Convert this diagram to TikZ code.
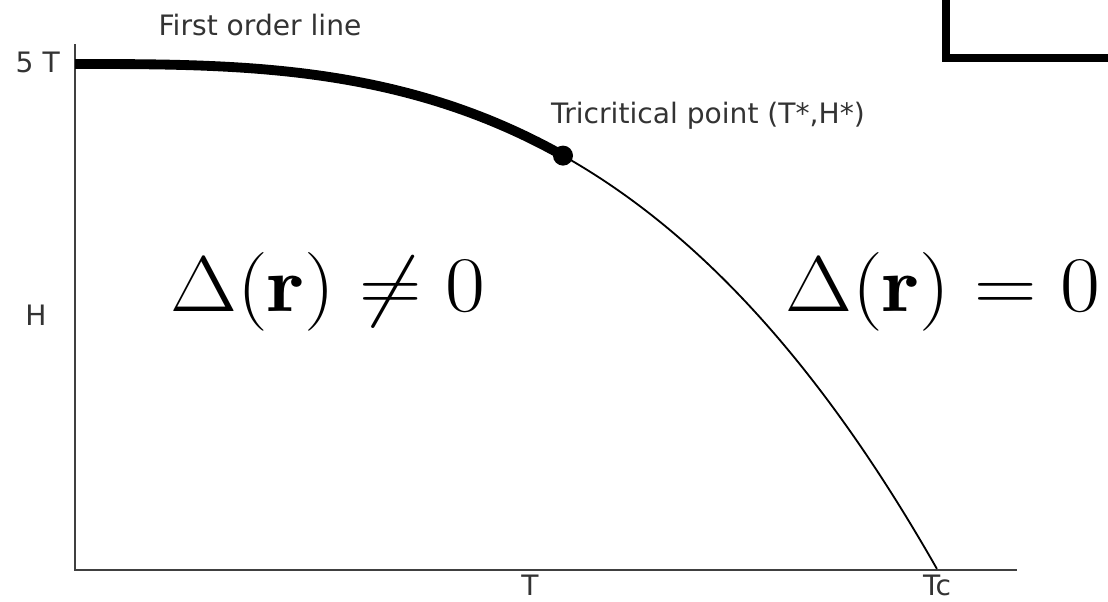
\RequirePackage{fix-cm}
\documentclass[tikz,border=0pt]{standalone}
\usepackage{fontspec}
\newfontfamily\labelfont{DejaVu Sans}
\usetikzlibrary{calc,positioning}

\definecolor{labelgray}{HTML}{333333}
\definecolor{axisgray}{HTML}{404040}

\newcommand{\widemath}[1]{\scalebox{1.1}[1]{#1}}

\tikzset{
  lbl/.style={font=\labelfont\fontsize{20}{24}\selectfont, text=labelgray, inner sep=0pt},
  phase/.style={font=\fontsize{56}{60}\selectfont, inner sep=0pt},
  axisline/.style={draw=axisgray, line width=1.8pt},
  firstorder/.style={line width=7pt},
  secondorder/.style={line width=1.3pt},
  frameline/.style={line width=5.6pt}
}

\begin{document}
\begin{tikzpicture}[x=0.025cm, y=-0.025cm]
\useasboundingbox (0,0) rectangle (1108,601);

% axes
\coordinate (top) at (75,44);
\coordinate (origin) at (75,570);
\coordinate (right) at (1017,570);
\draw[axisline] (top) -- (origin) -- (right);

% phase boundary, H ~ 1 - (T/Tc)^3
\coordinate (hfive) at (75,64);
\coordinate (tcrit) at (563,155.6);
\coordinate (tc) at (937,569);
\draw[firstorder] plot[domain=0:0.566, samples=60] ({75+862*\x},{64+505*\x^3});
\draw[secondorder] plot[domain=0.566:1, samples=60] ({75+862*\x},{64+505*\x^3});
\fill (tcrit) circle (10);

% frame in the corner
\draw[frameline] (946,-20) rectangle (1130,58);

% labels
\node[lbl, anchor=base] (first) at (260,35) {First order line};
\node[lbl, anchor=base east] (fivet) at (60,72) {5 T};
\node[lbl, anchor=base] (hlab) at (36,325) {H};
\node[lbl, anchor=base] (tlab) at (530,595) {T};
\node[lbl, anchor=base] (tclab) at (937,595) {Tc};
\node[lbl, anchor=base] (tcp) at (708,123) {Tricritical point (T*,H*)};

% phases
\node[phase, anchor=base] (ordered) at (328,311) {\widemath{$\Delta(\mathbf{r}) \neq 0$}};
\node[phase, anchor=base] (normal) at (943,311) {\widemath{$\Delta(\mathbf{r}) = 0$}};

\end{tikzpicture}
\end{document}
